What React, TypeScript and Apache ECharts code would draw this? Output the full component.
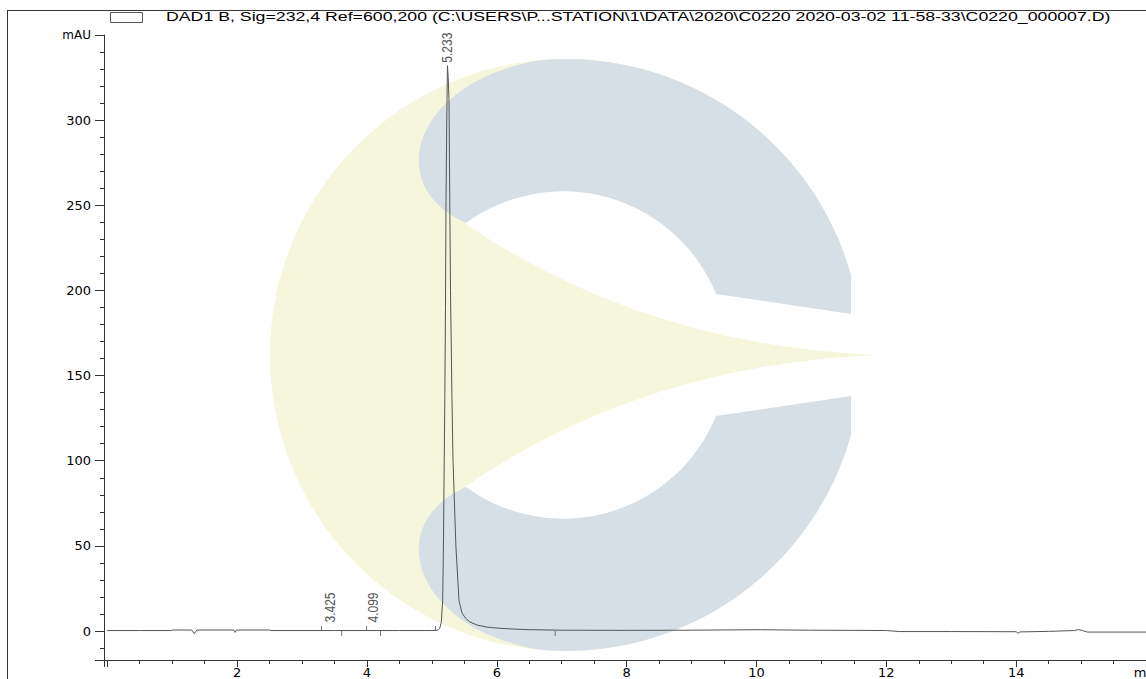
import React, { useEffect, useRef } from 'react';
import * as echarts from 'echarts';

// ---- data ----
const retentionTimes = [
  0.0, 0.5, 0.98, 1.0, 1.3, 1.34, 1.38, 1.95, 1.97, 1.99, 2.5, 2.52, 3.0, 3.5, 4.0, 4.5, 5.0,
  5.08, 5.12, 5.145, 5.167, 5.18, 5.19, 5.2, 5.21, 5.218, 5.23, 5.24, 5.252, 5.264, 5.287, 5.31,
  5.326, 5.37, 5.418, 5.464, 5.52, 5.587, 5.7, 5.85, 6.05, 6.25, 6.5, 7.0, 8.0, 9.0, 10.06, 10.8,
  11.5, 12.0, 12.2, 13.0, 14.0, 14.03, 14.06, 14.5, 14.9, 14.96, 15.02, 15.1, 16.0,
];
const absorbance = [
  0.3, 0.3, 0.3, 0.6, 0.6, -1.5, 0.6, 0.6, -0.8, 0.6, 0.6, 0.3, 0.3, 0.3, 0.3, 0.3, 0.3,
  0.4, 1.5, 5, 18, 55, 100, 136, 190, 253, 300, 332, 325, 312, 200, 136,
  100, 50, 18, 10.6, 7.5, 5.3, 3.5, 2.3, 1.6, 1.2, 0.8, 0.5, 0.4, 0.5, 0.8, 0.5,
  0.4, 0.3, -0.3, -0.3, -0.4, -1.3, -0.5, -0.2, 0.3, 0.9, 0.3, -0.6, -0.6,
];
const peakTimes = [3.425, 4.099, 5.233];
const peakLabels = ['3.425', '4.099', '5.233'];
const peakApex = [0.3, 0.3, 332];
const integrationStarts = [3.3, 3.995, 5.056];
const integrationEnds = [3.61, 4.21, 6.9];
const xRange = [-0.05, 16];
const yRange = [-17, 350];
const yUnit = 'mAU';
const xUnit = 'min';
const titleText =
  'DAD1 B, Sig=232,4 Ref=600,200 (C:\\USERS\\P...STATION\\1\\DATA\\2020\\C0220 2020-03-02 11-58-33\\C0220_000007.D)';

// ---- watermark shapes (decoration) ----
const WM_TOP =
  'M 542 60 A 296 296 0 0 1 851 275 L 851 314 L 716 294 A 165 165 0 0 0 466 223 C 380 185 415 80 542 60 Z';
const WM_BOTTOM =
  'M 542 650 A 296 296 0 0 0 851 435 L 851 396 L 716 416 A 165 165 0 0 1 466 487 C 380 525 415 630 542 650 Z';
const WM_WEDGE = 'M 460 220 Q 640 345 877 355 Q 640 365 460 490 L 290 355 Z';

let shapesRegistered = false;
function registerShapes() {
  if (shapesRegistered) return;
  shapesRegistered = true;
  echarts.graphic.registerShape('wmTop', echarts.graphic.extendPath(WM_TOP, {}) as any);
  echarts.graphic.registerShape('wmBottom', echarts.graphic.extendPath(WM_BOTTOM, {}) as any);
  echarts.graphic.registerShape('wmWedge', echarts.graphic.extendPath(WM_WEDGE, {}) as any);
}

const FONT = '"Liberation Sans", Arial, sans-serif';
const AXIS_FONT = '"DejaVu Sans", sans-serif';

export default function App() {
  const ref = useRef<HTMLDivElement>(null);

  useEffect(() => {
    if (!ref.current) return;
    registerShapes();
    const chart = echarts.init(ref.current, null, { renderer: 'svg' });
    const lineData = retentionTimes.map((t, i) => [t, absorbance[i]]);
    chart.setOption({
      animation: false,
      grid: { left: 104, right: 0, top: 35, bottom: 19, containLabel: false, outerBoundsMode: 'none' },
      xAxis: {
        type: 'value',
        min: xRange[0],
        max: xRange[1],
        splitNumber: 8,
        z: 4,
        axisLine: { show: true, onZero: false, lineStyle: { color: '#333', width: 1 } },
        axisTick: { show: true, length: 7, lineStyle: { color: '#333' } },
        minorTick: { show: true, splitNumber: 4, length: 4, lineStyle: { color: '#333' } },
        splitLine: { show: false },
        axisLabel: {
          color: '#000',
          fontFamily: AXIS_FONT,
          fontSize: 13,
          lineHeight: 14,
          margin: 5,
          showMinLabel: false,
          showMaxLabel: true,
          hideOverlap: false,
          formatter: (v: number) => (v <= 0 ? '' : v >= xRange[1] ? xUnit : String(v)),
        },
      },
      yAxis: {
        type: 'value',
        min: yRange[0],
        max: yRange[1],
        splitNumber: 7,
        z: 4,
        axisLine: { show: true, onZero: false, lineStyle: { color: '#333', width: 1 } },
        axisTick: { show: true, length: 9, lineStyle: { color: '#333' } },
        minorTick: { show: true, splitNumber: 5, length: 4, lineStyle: { color: '#333' } },
        splitLine: { show: false },
        axisLabel: {
          color: '#000',
          fontFamily: AXIS_FONT,
          fontSize: 13,
          margin: 13,
          showMinLabel: false,
          formatter: (v: number) => (v < 0 ? '' : v >= yRange[1] ? '{u|' + yUnit + '}' : String(v)),
          rich: { u: { fontFamily: AXIS_FONT, fontSize: 12, color: '#000' } },
        },
      },
      series: [
        {
          type: 'line',
          data: lineData,
          showSymbol: false,
          symbol: 'none',
          z: 3,
          lineStyle: { color: '#555', width: 1 },
          silent: true,
        },
        {
          type: 'scatter',
          data: integrationStarts.map((t) => [t, 0]),
          symbol: 'rect',
          symbolSize: [1, 5],
          symbolOffset: [0, -2.5],
          itemStyle: { color: '#555' },
          z: 3,
          silent: true,
        },
        {
          type: 'scatter',
          data: integrationEnds.map((t) => [t, 0]),
          symbol: 'rect',
          symbolSize: [1, 5],
          symbolOffset: [0, 2.5],
          itemStyle: { color: '#555' },
          z: 3,
          silent: true,
        },
      ],
    });

    const labelEls = peakTimes.map((t, i) => {
      const p = chart.convertToPixel({ xAxisIndex: 0, yAxisIndex: 0 }, [t, peakApex[i]]) as number[];
      const gap = peakApex[i] > 50 ? 3 : 8;
      return {
        type: 'text',
        id: 'peak' + i,
        x: p[0],
        y: p[1] - gap,
        rotation: Math.PI / 2,
        scaleY: 1.25,
        z: 6,
        style: {
          text: peakLabels[i],
          font: '12px ' + FONT,
          fill: '#555',
          align: 'left',
          verticalAlign: 'middle',
        },
      };
    });

    const staticEls: any[] = [
      { type: 'circle', id: 'wmY', z: -10, silent: true, shape: { cx: 566, cy: 355, r: 296 }, style: { fill: '#f6f6dc' } },
      { type: 'circle', id: 'wmHole', z: -9, silent: true, shape: { cx: 565, cy: 355, r: 165 }, style: { fill: '#ffffff' } },
      { type: 'rect', id: 'wmGap', z: -9, silent: true, shape: { x: 700, y: 265, width: 170, height: 180 }, style: { fill: '#ffffff' } },
      { type: 'wmTop', id: 'wmT', z: -8, silent: true, x: 0, y: 0, style: { fill: '#d6dfe5' } },
      { type: 'wmBottom', id: 'wmB', z: -8, silent: true, x: 0, y: 0, style: { fill: '#d6dfe5' } },
      { type: 'wmWedge', id: 'wmW', z: -7, silent: true, x: 0, y: 0, style: { fill: '#f6f6dc' } },
      { type: 'line', id: 'frameTop', z: 6, silent: true, shape: { x1: 8, y1: 10.5, x2: 1146, y2: 10.5 }, style: { stroke: '#333', lineWidth: 1 } },
      { type: 'line', id: 'frameLeft', z: 6, silent: true, shape: { x1: 7.5, y1: 10, x2: 7.5, y2: 679 }, style: { stroke: '#333', lineWidth: 1 } },
      { type: 'rect', id: 'legendBox', z: 6, silent: true, shape: { x: 110.5, y: 12.5, width: 32, height: 10 }, style: { fill: '#fff', stroke: '#555', lineWidth: 1 } },
      {
        type: 'text',
        id: 'title',
        z: 6,
        silent: true,
        x: 166,
        y: 17,
        scaleX: 1.478,
        style: { text: titleText, font: '12px ' + FONT, fill: '#000', align: 'left', verticalAlign: 'middle' },
      },
    ];

    chart.setOption({ graphic: { elements: [...staticEls, ...labelEls] } });

    return () => chart.dispose();
  }, []);

  return (
    <div
      ref={ref}
      style={{ position: 'fixed', left: 0, top: 0, width: 1146, height: 679, background: '#fff' }}
    />
  );
}
